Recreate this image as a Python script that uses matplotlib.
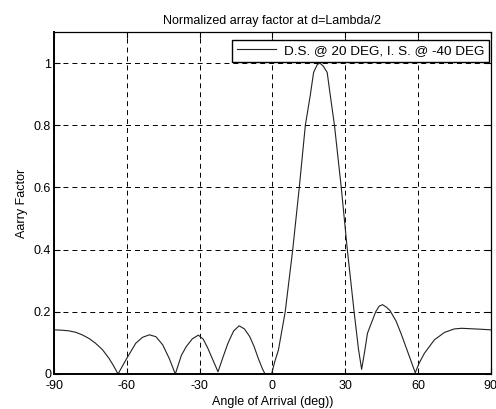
import numpy as np
import matplotlib
matplotlib.use("Agg")
import matplotlib.pyplot as plt

plt.rcParams['font.family'] = ['Liberation Sans', 'DejaVu Sans']

# angle of arrival (deg) and normalized array factor
theta = [-90, -87, -84, -81, -78.4, -75.5, -72.9, -70, -67.3, -65.5, -63.6,
         -60.4, -56.3, -53.5, -50.7, -48, -45.2, -42.5, -40,
         -37.5, -35.5, -33, -30.5, -28.5, -26.6, -24.5, -22.4,
         -20.3, -18.3, -16, -13.7, -11.5, -9.3, -7.5, -5.8, -4, -3, -0.3,
         1, 2.5, 5.3, 8.4, 11.1, 13.6, 15.6, 17, 18.5, 19.6, 21, 22.6, 23.9,
         25.6, 28.4, 30.9, 33.7, 35.5, 36.8, 38, 39.2, 42.6, 44, 45.4, 47,
         48.5, 51, 53, 56.5, 58.9, 60.5, 62.7, 66.8, 71, 75, 78, 80.7, 86, 90]
af = [0.142, 0.141, 0.139, 0.134, 0.126, 0.114, 0.099, 0.078, 0.05, 0.027, 0.0,
      0.045, 0.099, 0.118, 0.126, 0.12, 0.094, 0.05, 0.0,
      0.06, 0.088, 0.113, 0.125, 0.112, 0.083, 0.045, 0.007,
      0.055, 0.099, 0.138, 0.155, 0.145, 0.12, 0.088, 0.05, 0.015, 0.0, 0.0,
      0.04, 0.077, 0.2, 0.4, 0.6, 0.8, 0.895, 0.97, 0.995, 1.0, 0.99, 0.97, 0.895,
      0.8, 0.6, 0.4, 0.2, 0.08, 0.015, 0.07, 0.131, 0.2, 0.218, 0.223, 0.215,
      0.204, 0.17, 0.131, 0.056, 0.004, 0.035, 0.067, 0.11, 0.134, 0.145, 0.147, 0.146, 0.144, 0.142]

xticks = [-90, -60, -30, 0, 30, 60, 90]
yticks = [0, 0.2, 0.4, 0.6, 0.8, 1]

fig = plt.figure(figsize=(4.96, 4.09), dpi=100)
ax = fig.add_axes([54/496, 1 - 374/409, 436.7/496, 342/409])

ax.plot(theta, af, color='#222222', lw=0.8, label='D.S. @ 20 DEG, I. S. @ -40 DEG')

ax.set_xlim(-90, 90)
ax.set_ylim(0, 1.1)
ax.set_xticks(xticks)
ax.set_xticklabels([str(t) for t in xticks])
ax.set_yticks(yticks)
ax.set_yticklabels(['0', '0.2', '0.4', '0.6', '0.8', '1'])
ax.tick_params(direction='in', length=4, width=0.8, labelsize=9, pad=2,
               top=True, right=True)
ax.tick_params(axis='x', pad=4)
ax.grid(True, color='black', lw=0.7, linestyle=(0, (5.1, 4.1)))
for s in ax.spines.values():
    s.set_linewidth(0.9)
ax.spines['left'].set_linewidth(1.4)
ax.spines['bottom'].set_linewidth(1.4)

ax.set_title('Normalized array factor at d=Lambda/2', fontsize=9, pad=6)
ax.set_xlabel('Angle of Arrival (deg))', fontsize=9, labelpad=3)
ax.set_ylabel('Aarry Factor', fontsize=9, labelpad=4)

leg = ax.legend(loc='upper right', bbox_to_anchor=(0.9954, 0.9766), borderaxespad=0,
                fancybox=False, edgecolor='black', framealpha=1, fontsize=9.7,
                handlelength=2.9, handletextpad=0.55, borderpad=0.35)
leg.get_frame().set_linewidth(1.0)

fig.savefig('out.png', dpi=100)
